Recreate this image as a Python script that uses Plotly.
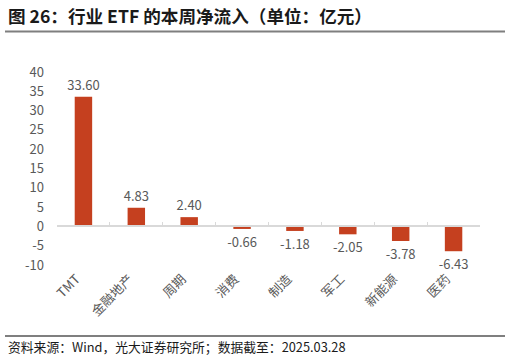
import plotly.graph_objects as go

categories = ["TMT", "金融地产", "周期", "消费", "制造", "军工", "新能源", "医药"]
values = [33.60, 4.83, 2.40, -0.66, -1.18, -2.05, -3.78, -6.43]
y_ticks = [-10, -5, 0, 5, 10, 15, 20, 25, 30, 35, 40]

title_text = "图 26：行业 ETF 的本周净流入（单位：亿元）"
source_text = "资料来源：Wind，光大证券研究所；数据截至：2025.03.28"

FONT = "Noto Sans CJK SC"
BAR = "#C5401F"
GRAY = "#595959"

W, H = 511, 358
L, R, T, B = 57, 31, 72, 93

fig = go.Figure()
fig.add_trace(go.Bar(
    x=categories, y=values,
    marker=dict(color=BAR, line=dict(width=0)),
    text=[f"{v:.2f}" for v in values],
    textposition="outside",
    constraintext="none",
    textfont=dict(family=FONT, size=13, color=GRAY),
    cliponaxis=False,
    xaxis="x", yaxis="y",
))
# invisible trace to drive the zero-line axis with boundary ticks
fig.add_trace(go.Bar(
    x=categories, y=[0] * len(categories),
    marker=dict(color="rgba(0,0,0,0)"),
    xaxis="x2", yaxis="y", showlegend=False, hoverinfo="skip",
))

ymin, ymax = -10, 40
zero_pos = (0 - ymin) / (ymax - ymin)

fig.update_layout(
    width=W, height=H,
    margin=dict(l=L, r=R, t=T, b=B, autoexpand=False),
    paper_bgcolor="white", plot_bgcolor="white",
    showlegend=False,
    bargap=0.67,
    font=dict(family=FONT, color=GRAY),
    xaxis=dict(
        type="category", automargin=False,
        showline=False, showgrid=False, zeroline=False,
        ticks="",
        tickangle=-45,
        ticklabelshift=-7,
        ticklabelstandoff=3,
        tickfont=dict(family=FONT, size=13, color=GRAY),
    ),
    xaxis2=dict(
        type="category",
        overlaying="x", matches="x",
        anchor="free", position=zero_pos,
        showline=True, linecolor="#D9D9D9", linewidth=1.5,
        ticks="inside", ticklen=4, tickcolor="#D9D9D9", tickwidth=1,
        tickson="boundaries",
        showticklabels=False, showgrid=False, zeroline=False,
    ),
    yaxis=dict(
        range=[ymin, ymax], automargin=False,
        tickvals=y_ticks,
        ticktext=[str(v) for v in y_ticks],
        showgrid=False, zeroline=False, showline=False,
        ticks="",
        tickfont=dict(family=FONT, size=13, color=GRAY),
        ticklabelstandoff=12,
    ),
)

def px_x(px):
    return (px - L) / (W - L - R)

def px_y(py):
    return ((H - B) - py) / (H - T - B)

fig.add_annotation(
    text=title_text, xref="paper", yref="paper",
    x=px_x(6), y=px_y(15),
    xanchor="left", yanchor="middle", showarrow=False,
    font=dict(family=FONT, size=17.6, color="#1a1a1a", weight="bold"),
)
fig.add_annotation(
    text=source_text, xref="paper", yref="paper",
    x=px_x(6), y=px_y(346),
    xanchor="left", yanchor="middle", showarrow=False,
    font=dict(family=FONT, size=12.8, color="#1a1a1a"),
)

fig.add_shape(type="line", xref="paper", yref="paper",
              x0=px_x(5), x1=px_x(505), y0=px_y(31.5), y1=px_y(31.5),
              line=dict(color="#7F7F7F", width=2))
fig.add_shape(type="line", xref="paper", yref="paper",
              x0=px_x(5), x1=px_x(505), y0=px_y(336), y1=px_y(336),
              line=dict(color="#7F7F7F", width=2))

fig.write_html(
    "out.html",
    config={"displayModeBar": False},
    post_script="document.body.style.margin='0';document.body.style.overflow='hidden';",
)
